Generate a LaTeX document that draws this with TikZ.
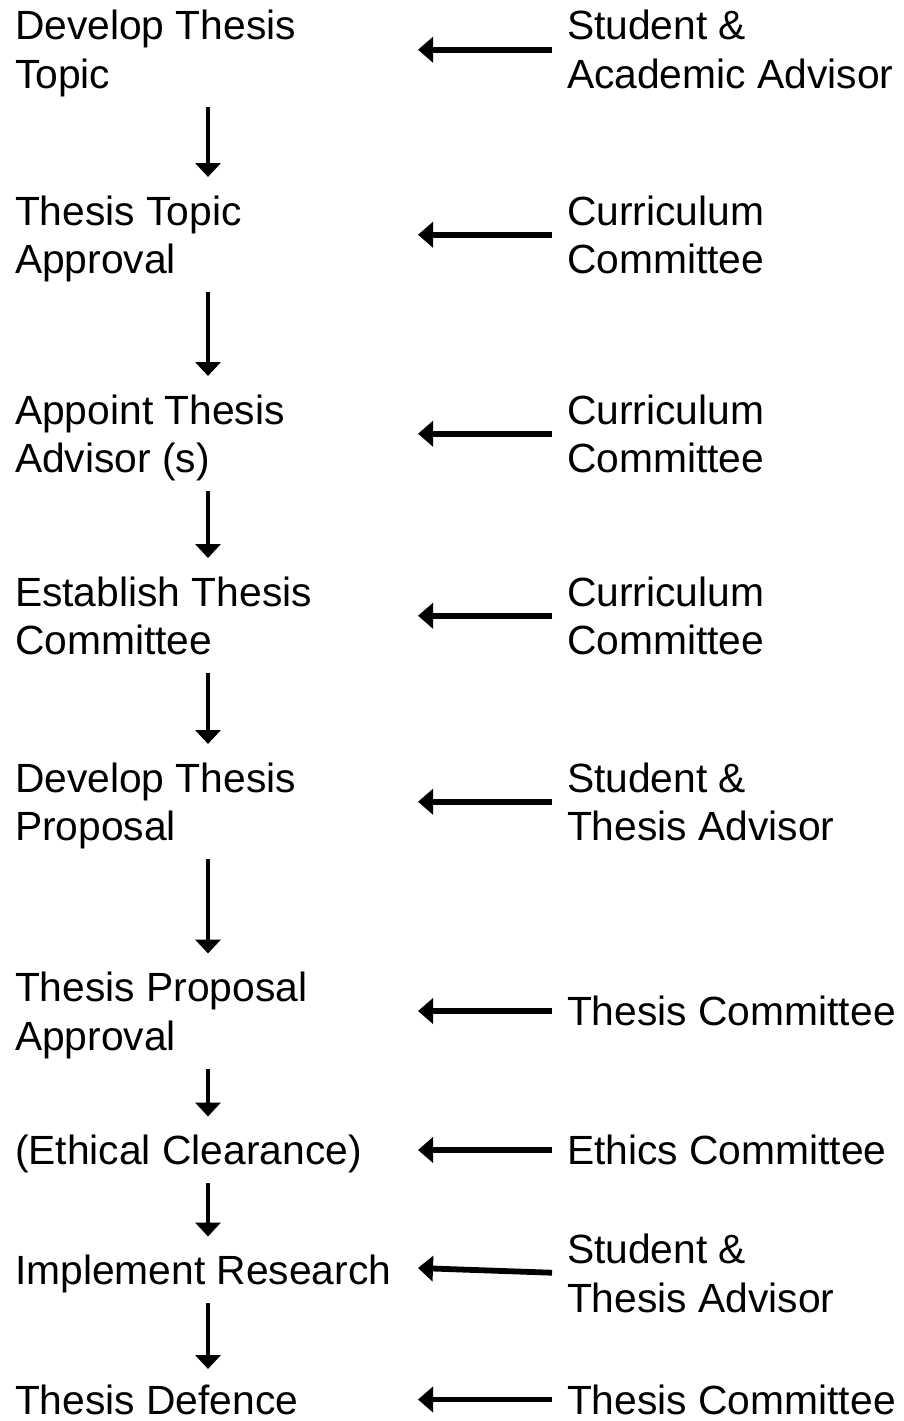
\documentclass[tikz,border=0pt]{standalone}
\usepackage{fontspec}
\setmainfont{Liberation Sans}
\usetikzlibrary{arrows.meta}
\newcommand\twoline[2]{\begin{tabular}[t]{@{}l@{}}#1\\#2\end{tabular}}
\begin{document}
\begin{tikzpicture}[x=1pt,y=-1pt,
  txt/.style={inner sep=0pt, outer sep=0pt, anchor=north west, text height=29pt,
    font=\fontsize{40.8}{48.5}\selectfont},
  two/.style={txt, text depth=48.5pt},
  one/.style={txt, text depth=0pt},
  varrow/.style={line width=4.2pt, -{Triangle[length=14pt,width=25pt]}, shorten <=18.5pt, shorten >=19pt},
  harrow/.style={line width=5.8pt, -{Triangle[length=15pt,width=25pt]}, shorten <=15pt}]
\useasboundingbox (0,0) rectangle (903,1421);
\coordinate (vx) at (208,0);
\coordinate (hx) at (418,0);
\coordinate (h8) at (418,1268);
% left column
\node[two] (l1) at (15,11) {\twoline{Develop Thesis}{Topic}};
\node[two] (l2) at (15,196) {\twoline{Thesis Topic}{Approval}};
\node[two] (l3) at (15,395) {\twoline{Appoint Thesis}{Advisor (s)}};
\node[two] (l4) at (15,577) {\twoline{Establish Thesis}{Committee}};
\node[two] (l5) at (15,763) {\twoline{Develop Thesis}{Proposal}};
\node[two] (l6) at (15,972.5) {\twoline{Thesis Proposal}{Approval}};
\node[one] (l7) at (15,1135.5) {(Ethical Clearance)};
\node[one] (l8) at (15,1255.5) {Implement Research};
\node[one] (l9) at (15,1385) {Thesis Defence};
% right column
\node[two] (r1) at (567,11) {\twoline{Student \&}{Academic Advisor}};
\node[two] (r2) at (567,196) {\twoline{Curriculum}{Committee}};
\node[two] (r3) at (567,395) {\twoline{Curriculum}{Committee}};
\node[two] (r4) at (567,577) {\twoline{Curriculum}{Committee}};
\node[two] (r5) at (567,763) {\twoline{Student \&}{Thesis Advisor}};
\node[one] (r6) at (567,996.5) {Thesis Committee};
\node[one] (r7) at (567,1135.5) {Ethics Committee};
\node[two] (r8) at (567,1234.5) {\twoline{Student \&}{Thesis Advisor}};
\node[one] (r9) at (567,1385) {Thesis Committee};
% vertical arrows
\draw[varrow] (l1.south -| vx) -- (l2.north -| vx);
\draw[varrow] (l2.south -| vx) -- (l3.north -| vx);
\draw[varrow] (l3.south -| vx) -- (l4.north -| vx);
\draw[varrow] (l4.south -| vx) -- (l5.north -| vx);
\draw[varrow] (l5.south -| vx) -- (l6.north -| vx);
\draw[varrow] (l6.south -| vx) -- (l7.north -| vx);
\draw[varrow] (l7.south -| vx) -- (l8.north -| vx);
\draw[varrow, shorten >=16pt] (l8.south -| vx) -- (l9.north -| vx);
% horizontal arrows
\draw[harrow] (r1.west) -- (r1.west -| hx);
\draw[harrow] (r2.west) -- (r2.west -| hx);
\draw[harrow] (r3.west) -- (r3.west -| hx);
\draw[harrow] (r4.west) -- (r4.west -| hx);
\draw[harrow] (r5.west) -- (r5.west -| hx);
\draw[harrow] (r6.west) -- (r6.west -| hx);
\draw[harrow] (r7.west) -- (r7.west -| hx);
\draw[harrow] (r8.west) -- (h8);
\draw[harrow] (r9.west) -- (r9.west -| hx);
\end{tikzpicture}
\end{document}
